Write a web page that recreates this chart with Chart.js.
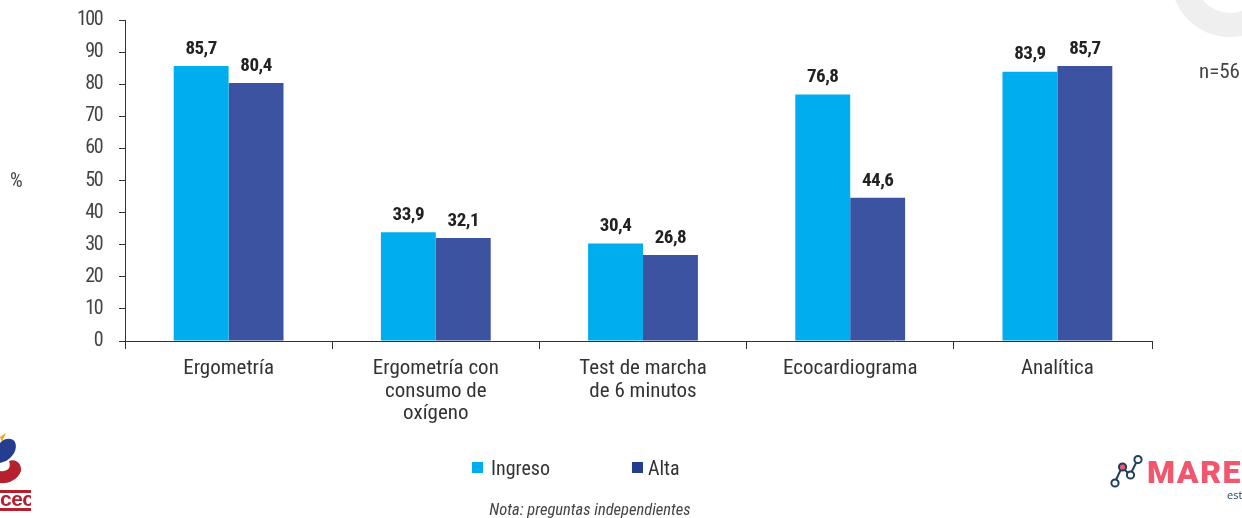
<!DOCTYPE html>
<html>
<head>
<meta charset="utf-8">
<script src="https://cdn.jsdelivr.net/npm/chart.js@4/dist/chart.umd.min.js"></script>
<style>
html,body{margin:0;padding:0;background:#fff;overflow:hidden}
#wrap{position:relative;width:1242px;height:518px;font-family:"Roboto Condensed","Roboto",sans-serif;color:#333;overflow:hidden}
canvas{position:absolute;left:0;top:0}
.t{position:absolute;white-space:nowrap;line-height:1}
.sq{position:absolute;width:11px;height:11px}
svg{position:absolute;left:0;top:0}
</style>
</head>
<body>
<div id="wrap">
<svg width="1242" height="518">
  <circle cx="1230" cy="-22" r="47" fill="none" stroke="#EFEFEF" stroke-width="24"/>
  <path d="M0 437 L6 433 L2 442Z" fill="#F5A623"/>
  <path d="M0 443 C4 438 12 437 15 442 C18 449 13 457 6 461 L0 463Z" fill="#253D8E"/>
  <path d="M9 461 C16 458 22 464 21 471 C18 480 8 484 0 483 L0 471 C6 472 12 469 9 461Z" fill="#B5202E"/>
  <rect x="0" y="490" width="31" height="3" fill="#B5202E"/>
  <rect x="0" y="508" width="31" height="3" fill="#B5202E"/>
  <g fill="none" stroke="#1F3F5B" stroke-width="2">
    <path d="M1115 482 L1122 467 L1130 475 L1138 459"/>
    <circle cx="1115" cy="483" r="3.6" fill="#fff"/>
    <circle cx="1122.5" cy="467" r="3.6" fill="#F0566E"/>
    <circle cx="1130.5" cy="475" r="3.6" fill="#fff"/>
    <circle cx="1138" cy="459.500" r="3.6" fill="#fff"/>
  </g>
</svg>
<canvas id="c" width="1242" height="518" style="width:1242px;height:518px"></canvas>
<div class="t" style="left:0;top:492px;width:31px;text-align:center;font:bold 21px 'Liberation Sans';color:#B5202E;letter-spacing:-.5px;height:16px;overflow:hidden;line-height:14px">cec</div>
<div class="t" id="yTitle" style="left:10px;top:170px;font-size:20px;color:#444">%</div>
<div class="t" id="nLabel" style="left:1199px;top:61px;font-size:21px;color:#444">n=56</div>
<div class="sq" id="k0" style="left:472px;top:462px"></div>
<div class="t" id="l0" style="left:491px;top:458px;font-size:20px"></div>
<div class="sq" id="k1" style="left:632px;top:462px"></div>
<div class="t" id="l1" style="left:648px;top:458px;font-size:20px"></div>
<div class="t" id="note" style="left:440px;width:300px;text-align:center;top:502px;font-size:16.500px;font-style:italic;color:#444">Nota: preguntas independientes</div>
<div class="t" style="left:1147px;top:453px;font:900 32px Roboto,sans-serif;color:#F0566E;letter-spacing:1.500px">MARE</div>
<div class="t" style="left:1227px;top:487px;font:11px 'Open Sans',sans-serif;color:#1F3F5B">est</div>
</div>
<script>
const categories = [["Ergometría"], ["Ergometría con","consumo de","oxígeno"], ["Test de marcha","de 6 minutos"], ["Ecocardiograma"], ["Analítica"]];
const ingreso = [85.7, 33.9, 30.4, 76.8, 83.9];
const alta = [80.4, 32.1, 26.8, 44.6, 85.7];
const yTicks = [0,10,20,30,40,50,60,70,80,90,100];
const seriesNames = ["Ingreso","Alta"];
const seriesColors = ["#00AEEF","#3B53A0"];
const legendColors = ["#00AEEF","#253D8E"];

seriesNames.forEach((n,i)=>{
  document.getElementById('l'+i).textContent = n;
  document.getElementById('k'+i).style.background = legendColors[i];
});

const FONT = '"Roboto Condensed","Roboto",sans-serif';
const AXIS_END = 1152;
const axisColor = '#333';

const valueLabels = {
  id:'valueLabels',
  afterDatasetsDraw(chart){
    const ctx = chart.ctx;
    ctx.save();
    ctx.font = 'bold 19px ' + FONT;
    ctx.letterSpacing = '-0.5px';
    ctx.fillStyle = '#222';
    ctx.textAlign = 'center';
    ctx.textBaseline = 'middle';
    chart.data.datasets.forEach((ds,d)=>{
      chart.getDatasetMeta(d).data.forEach((bar,i)=>{
        ctx.fillText(ds.data[i].toFixed(1).replace('.',','), bar.x, bar.y - 17);
      });
    });
    ctx.restore();
  }
};
const baseline = {
  id:'baseline',
  afterDraw(chart){
    const {ctx, chartArea} = chart;
    ctx.save();
    ctx.strokeStyle = axisColor;
    ctx.lineWidth = 1;
    ctx.beginPath();
    ctx.moveTo(chartArea.left, chartArea.bottom + .5);
    ctx.lineTo(AXIS_END + .5, chartArea.bottom + .5);
    ctx.moveTo(AXIS_END + .5, chartArea.bottom);
    ctx.lineTo(AXIS_END + .5, chartArea.bottom + 8);
    ctx.stroke();
    ctx.restore();
  }
};

new Chart(document.getElementById('c'), {
  type:'bar',
  data:{
    labels:categories,
    datasets:[
      {label:seriesNames[0], data:ingreso, backgroundColor:seriesColors[0]},
      {label:seriesNames[1], data:alta, backgroundColor:seriesColors[1]}
    ]
  },
  plugins:[valueLabels, baseline],
  options:{
    responsive:false,
    animation:false,
    devicePixelRatio:1,
    categoryPercentage:0.53,
    barPercentage:1,
    layout:{padding:{left:0,right:81,top:20,bottom:0}},
    plugins:{legend:{display:false},tooltip:{enabled:false},title:{display:false}},
    scales:{
      x:{
        border:{display:false},
        grid:{
          drawOnChartArea:false,
          drawTicks:true,
          tickLength:8,
          offset:true,
          color:ctx=>ctx.tick?axisColor:'transparent'
        },
        ticks:{font:{family:FONT,size:21,lineHeight:1.06},color:'#333',padding:9,maxRotation:0,autoSkip:false},
        afterFit(s){s.height=177;}
      },
      y:{
        min:0,max:100,
        border:{display:true,color:axisColor,width:1},
        grid:{drawOnChartArea:false,drawTicks:true,tickLength:6,color:axisColor},
        afterBuildTicks(s){s.ticks=yTicks.map(v=>({value:v}));},
        ticks:{font:{family:FONT,size:20},color:'#444',padding:17},
        afterFit(s){
          s.width=125;
          s.paddingTop=0;
          s.paddingBottom=0;
          if(!s._narrowed){
            s._narrowed=true;
            const draw=s.drawLabels;
            s.drawLabels=function(a){s.ctx.letterSpacing='-1.5px';draw.call(s,a);s.ctx.letterSpacing='0px';};
          }
        }
      }
    }
  }
});
</script>
</body>
</html>
